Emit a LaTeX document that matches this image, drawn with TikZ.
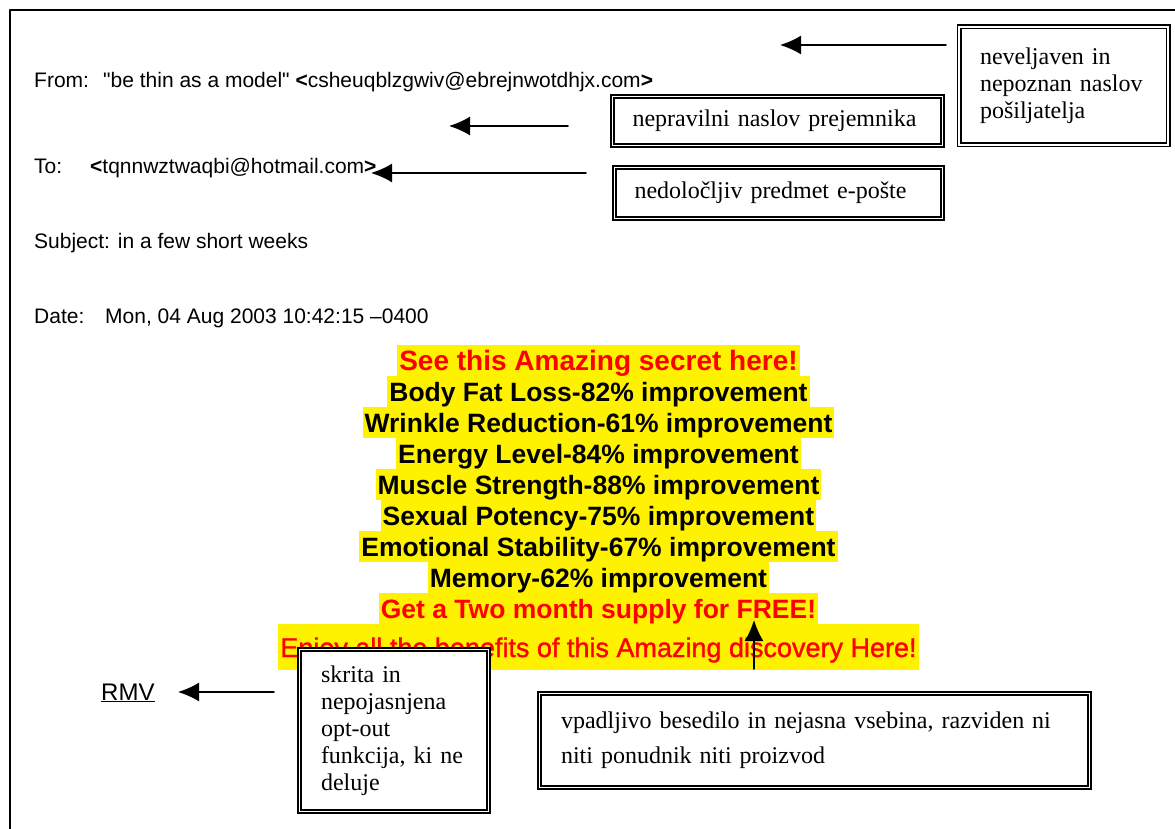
\documentclass[tikz,border=0pt]{standalone}
\usepackage{fontspec}
\setmainfont{Liberation Serif}
\newfontfamily\mailfont{Liberation Sans}
\newfontfamily\heavyfont[FakeBold=1.2]{Liberation Sans}
\usetikzlibrary{arrows.meta,positioning}

\begin{document}
\begin{tikzpicture}[x=1pt, y=-1pt, line join=round, line cap=round, >={Latex[length=21pt,width=19pt]},
	hdr/.style={font=\mailfont\fontsize{21}{25}\selectfont, anchor=base west, inner sep=0pt},
	hiline/.style={fill=yellow, outer sep=0pt, inner xsep=2pt, inner ysep=0pt, text height=25pt, text depth=6pt, font=\mailfont\bfseries\fontsize{26.5}{31}\selectfont},
	notebox/.style={draw, double, double distance=1.6pt, line width=1.7pt, line join=miter, line cap=butt, fill=white, align=left, font=\fontsize{24}{27}\selectfont},
	pointer/.style={->, line width=1.5pt}]
	%	\draw[gray, step=50] (0,0) grid (1175,829);
	\useasboundingbox (0,0) rectangle (1175,829);
	\draw[line width=1.8pt, line cap=butt] (1175,10) -- (10,10) -- (10,829);
	
	% mail header
	\node[hdr] (from) at (34,87.5) {\makebox[69pt][l]{From:}"be thin as a model" \textbf{<}csheuqblzgwiv@ebrejnwotdhjx.com\textbf{>}};
	\node[hdr] (to) at (34,174) {\makebox[56pt][l]{To:}\textbf{<}tqnnwztwaqbi@hotmail.com\textbf{>}};
	\node[hdr] (subject) at (34,248) {Subject: in a few short weeks};
	\node[hdr] (date) at (34,323) {\makebox[71pt][l]{Date:}Mon, 04 Aug 2003 10:42:15 –0400};
	
	% mail body
	\node[hiline, text=red, font=\mailfont\bfseries\fontsize{28}{31}\selectfont, anchor=north] (ad1) at (598.5,345) {See this Amazing secret here!};
	\node[hiline, below=0pt of ad1] (ad2) {Body Fat Loss-82\% improvement};
	\node[hiline, below=0pt of ad2] (ad3) {Wrinkle Reduction-61\% improvement};
	\node[hiline, below=0pt of ad3] (ad4) {Energy Level-84\% improvement};
	\node[hiline, below=0pt of ad4] (ad5) {Muscle Strength-88\% improvement};
	\node[hiline, below=0pt of ad5] (ad6) {Sexual Potency-75\% improvement};
	\node[hiline, below=0pt of ad6] (ad7) {Emotional Stability-67\% improvement};
	\node[hiline, below=0pt of ad7] (ad8) {Memory-62\% improvement};
	\node[hiline, text=red, below=0pt of ad8] (ad9) {Get a Two month supply for FREE!};
	\node[hiline, text=red, font=\heavyfont\fontsize{27}{31}\selectfont, text height=33pt, text depth=13pt, below=0pt of ad9] (ad10) {Enjoy all the benefits of this Amazing discovery Here!};
	\node[font=\mailfont\fontsize{24}{28}\selectfont, anchor=base west, inner sep=0pt] (rmv) at (101,700) {\underline{RMV}};
	
	% pointers
	\path
	(946,45) coordinate (sendtail)
	(780,45) coordinate (sendtip)
	(568,126) coordinate (rcpttail)
	(449,126) coordinate (rcpttip)
	(586,173) coordinate (subjtail)
	(371,173) coordinate (subjtip)
	(274,692) coordinate (opttail)
	(178,692) coordinate (opttip)
	(754,669) coordinate (bodytail)
	(754,620) coordinate (bodytip)
	;
	\draw[pointer] (sendtail) -- (sendtip);
	\draw[pointer] (rcpttail) -- (rcpttip);
	\draw[pointer] (subjtail) -- (subjtip);
	\draw[pointer] (opttail) -- (opttip);
	\draw[pointer] (bodytail) -- (bodytip);
	
	% notes
	\node[notebox, minimum width=209pt, minimum height=118pt, inner xsep=21pt, text width=167pt] (sender) at (1063.5,86) {neveljaven in\\nepoznan naslov\\pošiljatelja};
	\node[notebox, minimum width=330pt, minimum height=49pt, inner xsep=20pt, text width=290pt] (rcpt) at (777.5,121) {nepravilni naslov prejemnika};
	\node[notebox, minimum width=328pt, minimum height=51pt, inner xsep=20pt, text width=288pt] (subj) at (778.5,193) {nedoločljiv predmet e-pošte};
	\node[notebox, minimum width=189pt, minimum height=162pt, inner xsep=21.5pt, text width=146pt] (optout) at (394,730.5) {skrita in\\nepojasnjena\\opt-out\\funkcija, ki ne\\deluje};
	\node[notebox, minimum width=550pt, minimum height=94pt, inner xsep=21.5pt, text width=507pt, font=\fontsize{24}{35}\selectfont] (content) at (814.5,740.5) {vpadljivo besedilo in nejasna vsebina, razviden ni\\niti ponudnik niti proizvod};
\end{tikzpicture}
\end{document}
